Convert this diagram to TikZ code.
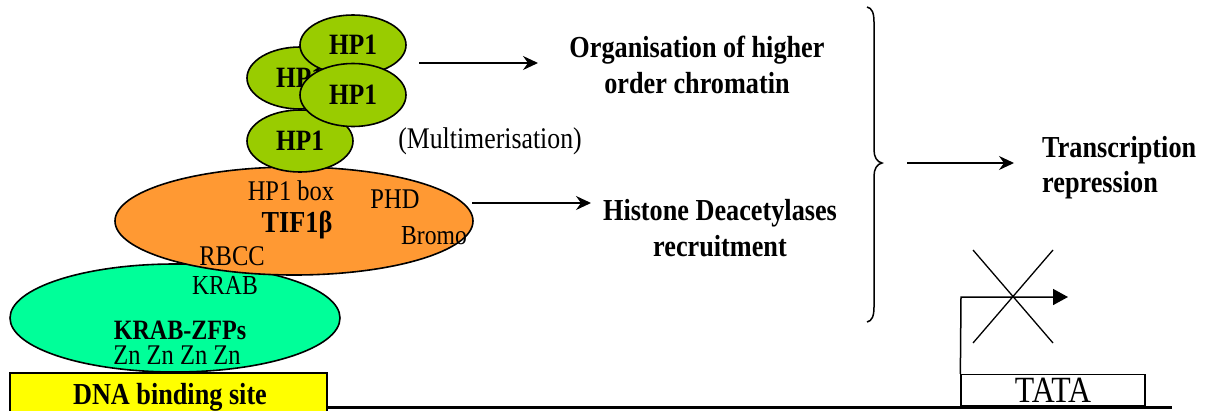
\documentclass[tikz,border=0pt]{standalone}
\usepackage{fontspec}
\setmainfont{Liberation Serif}[FakeStretch=0.86]
\usetikzlibrary{shapes.geometric,arrows.meta}
\definecolor{hpgreen}{HTML}{99CC00}
\definecolor{tiforange}{HTML}{FF9933}
\definecolor{krabgreen}{HTML}{00FF99}
\definecolor{dnayellow}{HTML}{FFFF00}
\tikzset{
  ell/.style={ellipse, draw=black, line width=1.6pt, inner sep=0pt},
  hpone/.style={ell, fill=hpgreen, minimum width=106pt, minimum height=62pt, font=\fontsize{29.5}{32}\selectfont\bfseries},
  reg/.style={inner sep=0pt, anchor=base, font=\fontsize{28.5}{32}\selectfont},
  bld/.style={inner sep=0pt, anchor=base, align=center, font=\fontsize{30.5}{36}\selectfont\bfseries},
  arr/.style={line width=1.6pt, -{Stealth[length=15pt,width=14pt,inset=5pt]}},
}
\begin{document}
\begin{tikzpicture}[x=1pt,y=-1pt]
\useasboundingbox (0,0) rectangle (1212,410);
% DNA binding site box
\fill[dnayellow] (10,373) rectangle (327,411);
\draw[line width=1.4pt] (10,411) -- (10,373) -- (327,373) -- (327,411);
\node[bld] (dna) at (170,404) {DNA binding site};
% baseline DNA
\coordinate (dnaL) at (327,407);
\coordinate (dnaR) at (1172,407);
\draw[line width=3pt] (dnaL) -- (dnaR);
% KRAB-ZFP ellipse
\node[ell, fill=krabgreen, minimum width=330pt, minimum height=108pt] (krab) at (175,318) {};
% TIF1b ellipse
\node[ell, fill=tiforange, minimum width=358pt, minimum height=108pt] (tif) at (294,221) {};
% HP1 ellipses
\node[hpone] (hpA) at (300,78) {HP1};
\node[hpone] (hpD) at (300,141) {HP1};
\node[hpone, minimum height=60pt] (hpB) at (353,45) {HP1};
\node[hpone, minimum height=63pt] (hpC) at (353,95) {HP1};
% labels inside
\node[reg] (hpbox) at (291,200) {HP1 box};
\node[reg] (phd) at (395,208) {PHD};
\node[bld, font=\fontsize{30.5}{36}\selectfont\bfseries] (tifl) at (297,232) {TIF1β};
\node[reg, font=\fontsize{27.5}{32}\selectfont] (bromo) at (434,244) {Bromo};
\node[reg] (rbcc) at (232,265) {RBCC};
\node[reg, font=\fontsize{27.5}{32}\selectfont] (krabl) at (225,294) {KRAB};
\node[bld, font=\fontsize{28}{32}\selectfont\bfseries] (zfp) at (180,339) {KRAB-ZFPs};
\node[reg] (zn) at (177,364) {Zn Zn Zn Zn};
\node[reg, font=\fontsize{30}{32}\selectfont] (multi) at (490,148) {(Multimerisation)};
% right side texts (base = last line)
\node[bld] (org) at (697,93) {Organisation of higher\\order chromatin};
\node[bld] (hdac) at (720,256) {Histone Deacetylases\\recruitment};
\node[bld, align=left, anchor=base west, font=\fontsize{30.5}{35}\selectfont\bfseries] (trans) at (1042,192) {Transcription\\repression};
% arrows
\coordinate (a1s) at (419,63); \coordinate (a1e) at (538,63);
\draw[arr] (a1s) -- (a1e);
\coordinate (a2s) at (472,203); \coordinate (a2e) at (591,203);
\draw[arr] (a2s) -- (a2e);
\coordinate (a3s) at (907,163); \coordinate (a3e) at (1014,163);
\draw[arr] (a3s) -- (a3e);
% brace
\draw[line width=1.5pt] (867,7) .. controls (872,8) and (874,13) .. (874,22) -- (874,150)
  .. controls (874,157) and (877,162) .. (882,163)
  .. controls (877,164) and (874,169) .. (874,176) -- (874,307)
  .. controls (874,316) and (872,321) .. (867,322);
% TATA promoter
\node[draw, line width=1.3pt, minimum width=184pt, minimum height=31pt, inner sep=0pt,
  font=\fontsize{37}{38}\selectfont] (tata) at (1053,390) {TATA};
\coordinate (bend) at (961,297);
\coordinate (tss) at (1068,297);
\draw[line width=1.5pt, -{Triangle[length=15pt,width=16pt]}] (tata.north west) -- (bend) -- (tss);
\coordinate (x1) at (973,250); \coordinate (x2) at (1053,343);
\coordinate (x3) at (1053,250); \coordinate (x4) at (973,343);
\draw[line width=1.3pt] (x1) -- (x2) (x3) -- (x4);
\end{tikzpicture}
\end{document}
